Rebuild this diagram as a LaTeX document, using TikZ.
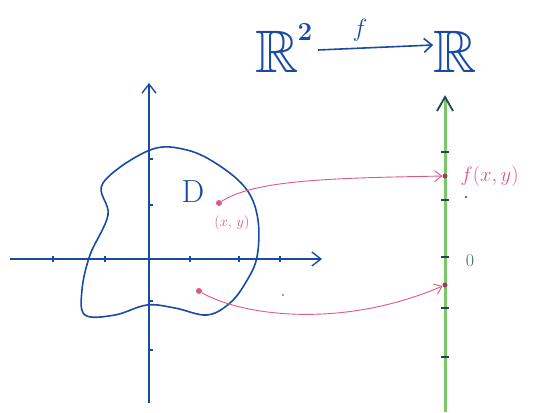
\documentclass[tikz,border=0pt]{standalone}
\usepackage{amssymb}
\usetikzlibrary{arrows.meta}
\definecolor{penblue}{RGB}{25,75,165}
\definecolor{penpink}{RGB}{220,90,125}
\definecolor{pengreen}{RGB}{120,200,100}
\definecolor{pendark}{RGB}{30,70,90}
\tikzset{
  axis/.style={draw=penblue, line width=1.4pt, -{Straight Barb[length=9pt,width=14pt,line width=1.4pt]}},
  tick/.style={draw=penblue, line width=1.3pt},
  gtick/.style={draw=pendark, line width=1.6pt},
  maparrow/.style={draw=penpink, line width=0.9pt, -{Straight Barb[length=7pt,width=11pt]}},
  dot/.style={circle, fill=penpink, inner sep=0pt, minimum size=6pt},
  gdot/.style={circle, fill=penpink!70!black, inner sep=0pt, minimum size=5pt},
  bigtxt/.style={text=penblue, font=\fontsize{60}{60}\selectfont, inner sep=0pt},
}
\begin{document}
\begin{tikzpicture}[x=1pt,y=-1pt]
\useasboundingbox (0,0) rectangle (535,412);
% title
\node[bigtxt, anchor=base] (R2) at (277,72) {$\mathbb{R}$};
\node[text=penblue, font=\fontsize{26}{26}\selectfont\bfseries, inner sep=0pt] (sq) at (305,32) {2};
\node[bigtxt, anchor=base] (R1) at (455,72) {$\mathbb{R}$};
\draw[draw=penblue, line width=1.6pt, -{Straight Barb[length=8pt,width=14pt,line width=1.6pt]}] (318,50) -- (R1.west |- 0,45);
\node[text=penblue, font=\fontsize{26}{26}\selectfont] (fl) at (360,30) {$f$};
% left axes
\coordinate (xl) at (10,259); \coordinate (xr) at (322,259);
\coordinate (yb) at (149,403); \coordinate (yt) at (149,83);
\draw[axis] (xl) -- (xr);
\draw[axis] (yb) -- (yt);
\foreach \x in {53,105,190,239,280} \draw[tick] (\x,256) -- (\x,262);
\foreach \y in {159,205,301,350} \draw[tick] (149,\y) -- (153,\y);
% region D
\draw[penblue, line width=1.6pt] plot[smooth cycle, tension=0.6] coordinates {
 (150,150) (187,150) (220,166) (247,190) (258,220) (257,257) (246,282) (230,303)
 (207,315) (175,308) (147,305) (115,315) (85,315) (82,290) (90,255) (108,215)
 (103,183)};
\node[text=penblue, font=\fontsize{32}{32}\selectfont] (D) at (193,192) {D};
% points
\node[dot] (p1) at (219,203) {};
\node[text=penpink, font=\fontsize{14}{14}\selectfont] (p1l) at (232,223) {$(x,\,y)$};
\node[dot] (p2) at (199,291) {};
\fill[pendark] (283,295) circle (0.9pt);
% green axis
\coordinate (gb) at (445,412); \coordinate (gt) at (445,97);
\draw[draw=pengreen, line width=3pt] (gb) -- (gt);
\draw[draw=pendark, line width=1.8pt] (437,111) -- (445,97) -- (453,111);
\foreach \y in {152,200,257,308,357} \draw[gtick] (441,\y) -- (449,\y);
\node[gdot] (q1) at (445,176) {};
\node[gdot] (q2) at (445,285) {};
\node[text=penpink, font=\fontsize{20}{20}\selectfont, anchor=west] (q1l) at (457,176) {$f(x,y)$};
\node[text=pendark!70!pengreen, font=\fontsize{18}{18}\selectfont] (zero) at (470,261) {0};
\fill[pendark] (466,197) circle (1.2pt);
% mapping arrows
\draw[maparrow] (p1) .. controls (255,180) and (330,178) .. (q1);
\draw[maparrow] (p2) .. controls (240,315) and (340,330) .. (q2);
\end{tikzpicture}
\end{document}
